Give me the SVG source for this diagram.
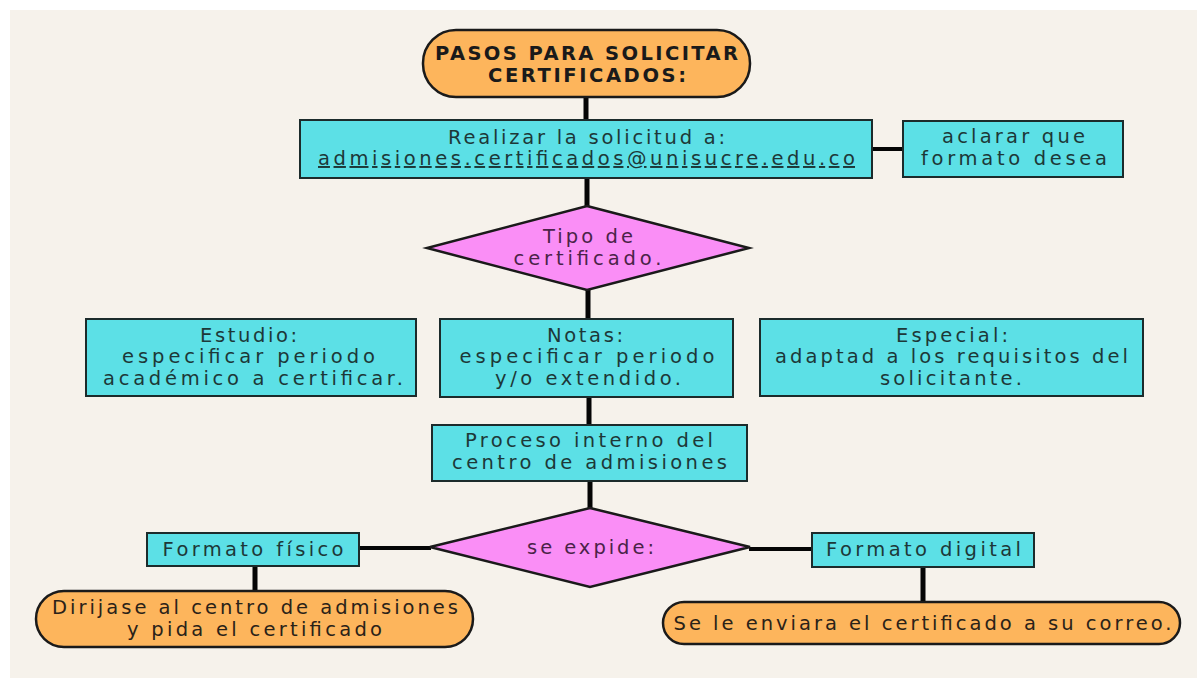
<svg xmlns="http://www.w3.org/2000/svg" width="1197" height="678" viewBox="0 0 1197 678">
<style>
.bg{fill:#f6f2eb}
.box{fill:#5ce0e6;stroke:#1c2b2b;stroke-width:2}
.pill{fill:#fdb55c;stroke:#1a1a1a;stroke-width:2.5}
.dia{fill:#fa8ef6;stroke:#1a1a1a;stroke-width:2.5}
.conn{stroke:#050505;stroke-linecap:butt;fill:none}
text{font-family:"DejaVu Sans","Liberation Sans",sans-serif;font-size:19.5px;text-anchor:middle}
.t{fill:#1d3838}
.p{fill:#4a2348}
.o{fill:#2a2218}
.title{font-weight:bold;font-size:19.5px;fill:#1a1a1a}
</style>
<rect width="1197" height="678" fill="#ffffff"/>
<rect class="bg" x="10" y="10" width="1187" height="668"/>
<g id="connectors">
<line class="conn" stroke-width="5" x1="586" y1="96" x2="586" y2="121"/>
<line class="conn" stroke-width="4" x1="872" y1="149" x2="904" y2="149"/>
<line class="conn" stroke-width="5" x1="587" y1="178" x2="587" y2="207"/>
<line class="conn" stroke-width="5" x1="588" y1="289" x2="588" y2="320"/>
<line class="conn" stroke-width="5" x1="589" y1="396" x2="589" y2="426"/>
<line class="conn" stroke-width="5" x1="590" y1="480" x2="590" y2="509"/>
<line class="conn" stroke-width="4" x1="359" y1="548" x2="431" y2="548"/>
<line class="conn" stroke-width="5" x1="255" y1="566" x2="255" y2="592"/>
<line class="conn" stroke-width="4" x1="749" y1="549" x2="813" y2="549"/>
<line class="conn" stroke-width="5" x1="923" y1="567" x2="923" y2="603"/>
</g>
<g id="title">
<rect class="pill" x="423" y="30" width="327" height="67" rx="33"/>
<text class="title" x="586.5" y="60" textLength="303" lengthAdjust="spacing">PASOS PARA SOLICITAR</text>
<text class="title" x="587" y="82" textLength="198" lengthAdjust="spacing">CERTIFICADOS:</text>
</g>
<g id="solicitud">
<rect class="box" x="300" y="120" width="572" height="58"/>
<text class="t" x="586.5" y="144" textLength="277" lengthAdjust="spacing">Realizar la solicitud a:</text>
<text class="t" x="586.5" y="165" textLength="537" lengthAdjust="spacing" text-decoration="underline">admisiones.certificados@unisucre.edu.co</text>
</g>
<g id="aclarar">
<rect class="box" x="903" y="121" width="220" height="56"/>
<text class="t" x="1013.5" y="143" textLength="143" lengthAdjust="spacing">aclarar que</text>
<text class="t" x="1014" y="165" textLength="186" lengthAdjust="spacing">formato desea</text>
</g>
<g id="tipo">
<polygon class="dia" points="587,206 749,248 587,290 427,248"/>
<text class="p" x="588" y="243" textLength="90" lengthAdjust="spacing">Tipo de</text>
<text class="p" x="587.5" y="265" textLength="148" lengthAdjust="spacing">certificado.</text>
</g>
<g id="estudio">
<rect class="box" x="86" y="319" width="330" height="77"/>
<text class="t" x="248.5" y="342" textLength="97" lengthAdjust="spacing">Estudio:</text>
<text class="t" x="248.5" y="363" textLength="253" lengthAdjust="spacing">especificar periodo</text>
<text class="t" x="253" y="385" textLength="300" lengthAdjust="spacing">académico a certificar.</text>
</g>
<g id="notas">
<rect class="box" x="440" y="319" width="293" height="78"/>
<text class="t" x="585" y="342" textLength="76" lengthAdjust="spacing">Notas:</text>
<text class="t" x="587" y="363" textLength="255" lengthAdjust="spacing">especificar periodo</text>
<text class="t" x="588" y="385" textLength="186" lengthAdjust="spacing">y/o extendido.</text>
</g>
<g id="especial">
<rect class="box" x="760" y="319" width="383" height="77"/>
<text class="t" x="952" y="342" textLength="112" lengthAdjust="spacing">Especial:</text>
<text class="t" x="951.5" y="363" textLength="353" lengthAdjust="spacing">adaptad a los requisitos del</text>
<text class="t" x="951" y="385" textLength="142" lengthAdjust="spacing">solicitante.</text>
</g>
<g id="proceso">
<rect class="box" x="432" y="425" width="315" height="56"/>
<text class="t" x="589" y="447" textLength="248" lengthAdjust="spacing">Proceso interno del</text>
<text class="t" x="589.5" y="469" textLength="275" lengthAdjust="spacing">centro de admisiones</text>
</g>
<g id="expide">
<polygon class="dia" points="590,508 750,547 590,587 430,547"/>
<text class="p" x="590.5" y="554" textLength="127" lengthAdjust="spacing">se expide:</text>
</g>
<g id="fisico">
<rect class="box" x="147" y="533" width="212" height="33"/>
<text class="t" x="253" y="556" textLength="181" lengthAdjust="spacing">Formato físico</text>
</g>
<g id="dirijase">
<rect class="pill" x="36" y="591" width="437" height="56" rx="28"/>
<text class="o" x="255" y="614" textLength="406" lengthAdjust="spacing">Dirijase al centro de admisiones</text>
<text class="o" x="254.5" y="636" textLength="255" lengthAdjust="spacing">y pida el certificado</text>
</g>
<g id="digital">
<rect class="box" x="812" y="533" width="222" height="34"/>
<text class="t" x="923.5" y="556" textLength="195" lengthAdjust="spacing">Formato digital</text>
</g>
<g id="enviara">
<rect class="pill" x="663" y="602" width="517" height="42" rx="21"/>
<text class="o" x="922.5" y="630" textLength="498" lengthAdjust="spacing">Se le enviara el certificado a su correo.</text>
</g>
</svg>
